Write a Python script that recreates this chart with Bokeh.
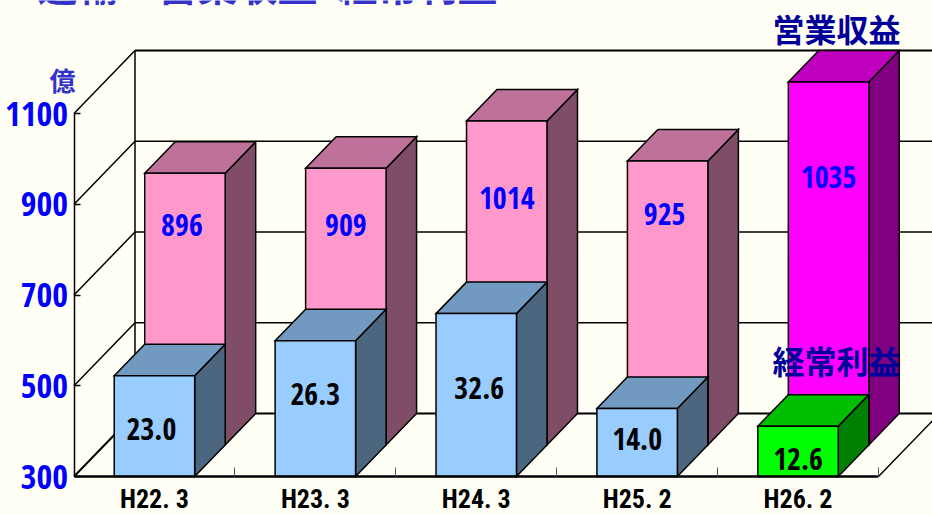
from bokeh.plotting import figure
from bokeh.models import Range1d, LinearAxis, FixedTicker, Label
from bokeh.core.properties import value
from bokeh.embed import file_html
from bokeh.resources import INLINE

categories = ["H22. 3", "H23. 3", "H24. 3", "H25. 2", "H26. 2"]
y_ticks = [300, 500, 700, 900, 1100]
# Bar heights as read against the left axis, and the figures printed on the bars
revenue_heights = [899, 910, 1014, 926, 1100]
revenue_labels = ["896", "909", "1014", "925", "1035"]
profit_heights = [522, 599, 659, 450, 411]
profit_labels = ["23.0", "26.3", "32.6", "14.0", "12.6"]
# Where the printed figures sit, on the same axis
revenue_label_y = [855, 855, 913, 878, 959]
profit_label_y = [405, 482, 495, 383, 339]
# Small sideways nudges of the printed figures, in pixels
revenue_label_nudge = [-3, 0, 0, -3, 0]
profit_label_nudge = [-3, 0, 3, 0, 0]

W, H = 932, 515
FLOOR_PX, UNIT_PX = 476, 0.45375
LEFT_PX, CAT_PX = 73.5, 160.9
DEPTH_X = 61 / CAT_PX
DEPTH_Y = 63 / UNIT_PX
BAR_W = 0.5

BG = "#FFFFF5"
PINK = ("#FF99CC", "#BF7299", "#804D66")
MAGENTA = ("#FF00FF", "#BF00BF", "#800080")
BLUE = ("#99CCFF", "#7299BF", "#4D6680")
GREEN = ("#00FF00", "#00BF00", "#008000")
NARROW = "Open Sans Condensed"
NARROW2 = "Roboto Condensed"
CJK = "Noto Sans CJK JP"

p = figure(
    width=W, height=H, output_backend="svg", toolbar_location=None,
    x_range=Range1d(-LEFT_PX / CAT_PX, (W - LEFT_PX) / CAT_PX),
    y_range=Range1d(300 - (H - FLOOR_PX) / UNIT_PX, 300 + FLOOR_PX / UNIT_PX),
    min_border=0, x_axis_location=None, y_axis_location=None,
    background_fill_color=BG, border_fill_color=BG, outline_line_color=None,
    styles={"position": "absolute", "left": "0px", "top": "0px"},
)
p.grid.visible = False

n = len(categories)
top_tick, low_tick = y_ticks[-1], y_ticks[0]

# Side wall and back wall lines
for t in y_ticks:
    thick = 2.2 if t in (low_tick, top_tick) else 1.5
    p.line([0, DEPTH_X], [t, t + DEPTH_Y], line_color="black", line_width=1.5 if t != low_tick else 2)
    p.line([DEPTH_X, n + DEPTH_X], [t + DEPTH_Y] * 2, line_color="black", line_width=thick)
p.line([DEPTH_X, DEPTH_X], [low_tick + DEPTH_Y, top_tick + DEPTH_Y], line_color="black", line_width=1.5)
p.line([n, n + DEPTH_X], [low_tick, low_tick + DEPTH_Y], line_color="black", line_width=1.5)


def box(center, top, d0, d1, colors):
    x0 = center - BAR_W / 2 + d0 * DEPTH_X
    x1 = center + BAR_W / 2 + d0 * DEPTH_X
    dx = (d1 - d0) * DEPTH_X
    y0 = low_tick + d0 * DEPTH_Y
    y1 = y0 + (top - low_tick)
    dy = (d1 - d0) * DEPTH_Y
    line = dict(line_color="black", line_width=1.5, line_join="miter")
    p.patch([x1, x1 + dx, x1 + dx, x1], [y0, y0 + dy, y1 + dy, y1], fill_color=colors[2], **line)
    p.patch([x0, x1, x1 + dx, x0 + dx], [y1, y1, y1 + dy, y1 + dy], fill_color=colors[1], **line)
    p.patch([x0, x1, x1, x0], [y0, y0, y1, y1], fill_color=colors[0], **line)


for i in range(n):
    last = i == n - 1
    box(i + 0.5, revenue_heights[i], 0.5, 1.0, MAGENTA if last else PINK)
    box(i + 0.5, profit_heights[i], 0.0, 0.5, GREEN if last else BLUE)

# Printed figures
rev_x = [i + 0.5 + 0.5 * DEPTH_X for i in range(n)]
prof_x = [i + 0.5 for i in range(n)]
p.text(rev_x, revenue_label_y, text=revenue_labels, text_color="#0000FF", x_offset=revenue_label_nudge,
       text_font=value(NARROW), text_font_style="bold", text_font_size="30px",
       text_align="center", text_baseline="middle")
p.text(prof_x, profit_label_y, text=profit_labels, text_color="#000000", x_offset=profit_label_nudge,
       text_font=value(NARROW), text_font_style="bold", text_font_size="30px",
       text_align="center", text_baseline="middle")

# Axes
yax = LinearAxis(fixed_location=0, ticker=FixedTicker(ticks=y_ticks), bounds=(300, 1100))
yax.axis_line_color = "black"
yax.axis_line_width = 1.5
yax.major_tick_in = 6
yax.major_tick_out = 0
yax.minor_tick_line_color = None
yax.major_tick_line_width = 1.5
yax.major_label_standoff = 6
yax.major_label_text_color = "#0000FF"
yax.major_label_text_font = NARROW
yax.major_label_text_font_size = "34px"
p.add_layout(yax, "left")

xax = LinearAxis(fixed_location=low_tick, bounds=(0, n),
                 ticker=FixedTicker(ticks=[i + 0.5 for i in range(n)],
                                    minor_ticks=list(range(1, n + 1))))
xax.major_label_overrides = {i + 0.5: c for i, c in enumerate(categories)}
xax.axis_line_color = "black"
xax.axis_line_width = 2.5
xax.major_tick_line_color = None
xax.major_tick_in = 0
xax.major_tick_out = 0
xax.minor_tick_in = 9
xax.minor_tick_out = 0
xax.minor_tick_line_color = "#555555"
xax.minor_tick_line_width = 1
xax.major_label_standoff = 7
xax.major_label_text_color = "#000000"
xax.major_label_text_font = NARROW2
xax.major_label_text_font_style = "bold"
xax.major_label_text_font_size = "26px"
p.add_layout(xax, "below")

# Title, unit and series names
def note(text, x, y, size, color, align="left"):
    p.add_layout(Label(x=x, y=H - y, x_units="screen", y_units="screen", text=text,
                       text_font=CJK, text_font_style="bold", text_font_size=size,
                       text_color=color, text_align=align, text_baseline="middle"))


note("運輸　営業収益\u2002経常利益", 37, -17, "40px", "#3333CC")
note("億", 62, 79, "26px", "#3333CC", "center")
note("営業収益", 836, 27, "32px", "#000099", "center")
note("経常利益", 836, 359, "32px", "#000099", "center")

open("out.html", "w").write(file_html(p, INLINE))
